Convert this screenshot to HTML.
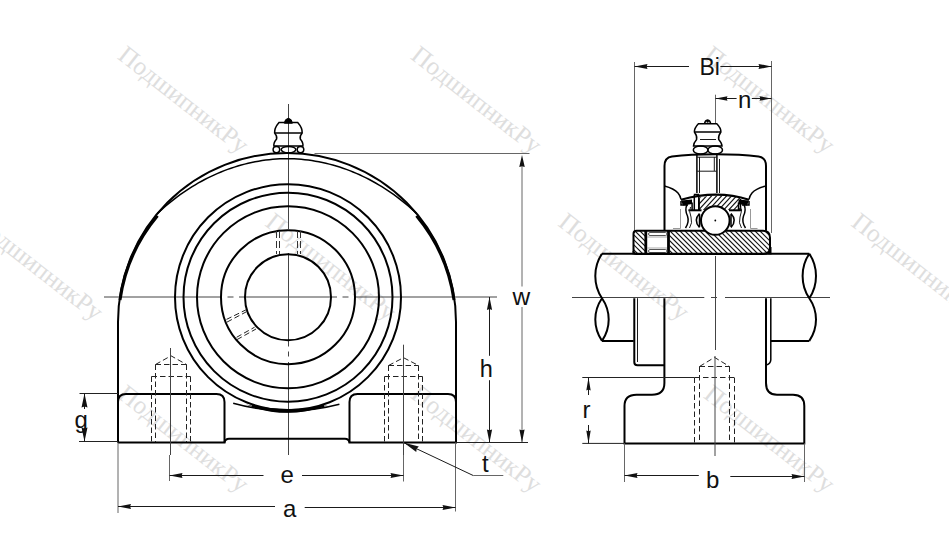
<!DOCTYPE html>
<html><head><meta charset="utf-8"><style>
html,body{margin:0;padding:0;background:#fff;width:949px;height:543px;overflow:hidden}
svg{display:block}
.k{fill:none;stroke:#000;stroke-width:2}
.k3{fill:none;stroke:#000;stroke-width:3}
.m{fill:none;stroke:#000;stroke-width:1.5}
.f{fill:#000;stroke:#000;stroke-width:1}
.t{fill:none;stroke:#1a1a1a;stroke-width:1}
.c{fill:none;stroke:#444;stroke-width:1}
.x{fill:none;stroke:#666;stroke-width:1}
.x2{fill:none;stroke:#222;stroke-width:1}
.dl{fill:none;stroke:#1a1a1a;stroke-width:1}
.d{fill:none;stroke:#222;stroke-width:1;stroke-dasharray:5.5 3}
.ht line{stroke:#111;stroke-width:1.15}
.lbl{font-family:"Liberation Sans",sans-serif;fill:#111}
.wm{font-family:"Liberation Serif",serif;font-size:25.5px;fill:#dedede}
</style></head><body>
<svg width="949" height="543" viewBox="0 0 949 543">
<rect width="949" height="543" fill="#fff"/>
<text x="0" y="0" transform="translate(116.5,58) rotate(38)" class="wm">ПодшипникРу</text>
<text x="0" y="0" transform="translate(409.5,58) rotate(38)" class="wm">ПодшипникРу</text>
<text x="0" y="0" transform="translate(702.5,58) rotate(38)" class="wm">ПодшипникРу</text>
<text x="0" y="0" transform="translate(-29,225) rotate(38)" class="wm">ПодшипникРу</text>
<text x="0" y="0" transform="translate(264,225) rotate(38)" class="wm">ПодшипникРу</text>
<text x="0" y="0" transform="translate(557,225) rotate(38)" class="wm">ПодшипникРу</text>
<text x="0" y="0" transform="translate(850,225) rotate(38)" class="wm">ПодшипникРу</text>
<text x="0" y="0" transform="translate(116.5,397) rotate(38)" class="wm">ПодшипникРу</text>
<text x="0" y="0" transform="translate(409.5,397) rotate(38)" class="wm">ПодшипникРу</text>
<text x="0" y="0" transform="translate(702.5,397) rotate(38)" class="wm">ПодшипникРу</text>
<line x1="288.5" y1="104" x2="288.5" y2="229" class="c"/>
<line x1="288.5" y1="253" x2="288.5" y2="346.5" class="c"/>
<line x1="288.5" y1="351.5" x2="288.5" y2="356.5" class="c"/>
<line x1="288.5" y1="362" x2="288.5" y2="455" class="c"/>
<line x1="104" y1="297" x2="221" y2="297" class="c"/>
<line x1="227.5" y1="297" x2="233.5" y2="297" class="c"/>
<line x1="239" y1="297" x2="245" y2="297" class="c"/>
<line x1="245" y1="297" x2="331" y2="297" class="c"/>
<line x1="331" y1="297" x2="337" y2="297" class="c"/>
<line x1="342.5" y1="297" x2="348.5" y2="297" class="c"/>
<line x1="355" y1="297" x2="497" y2="297" class="c"/>
<path d="M118 442.4 L118 322 A169 169 0 0 1 456 322 L456 442.4" class="k"/>
<path d="M157.50 213.41 L160.21 210.89 L162.96 208.42 L165.74 206.00 L168.55 203.63 L171.40 201.32 L174.27 199.06 L177.18 196.85 L180.12 194.70 L183.09 192.60 L186.09 190.56 L189.12 188.58 L192.18 186.65 L195.27 184.79 L198.39 182.97 L201.53 181.22 L204.70 179.53 L207.90 177.90 L211.13 176.32 L214.38 174.81 L217.66 173.37 L220.96 171.98 L224.28 170.66 L227.63 169.40 L231.00 168.21 L234.39 167.09 L237.80 166.03 L241.23 165.04 L244.68 164.12 L248.14 163.27 L251.62 162.49 L255.12 161.78 L258.62 161.14 L262.14 160.57 L265.67 160.08 L269.21 159.66 L272.76 159.32 L276.32 159.05 L279.87 158.85 L283.44 158.74 L287.00 158.70 L290.56 158.74 L294.13 158.85 L297.68 159.05 L301.24 159.32 L304.79 159.66 L308.33 160.08 L311.86 160.57 L315.38 161.14 L318.88 161.78 L322.38 162.49 L325.86 163.27 L329.32 164.12 L332.77 165.04 L336.20 166.03 L339.61 167.09 L343.00 168.21 L346.37 169.40 L349.72 170.66 L353.04 171.98 L356.34 173.37 L359.62 174.81 L362.87 176.32 L366.10 177.90 L369.30 179.53 L372.47 181.22 L375.61 182.97 L378.73 184.79 L381.82 186.65 L384.88 188.58 L387.91 190.56 L390.91 192.60 L393.88 194.70 L396.82 196.85 L399.73 199.06 L402.60 201.32 L405.45 203.63 L408.26 206.00 L411.04 208.42 L413.79 210.89 L416.50 213.41" class="m"/>
<path d="M120 300 A169 169 0 0 1 157.5 215.8" class="k3"/>
<path d="M416.5 215.8 A169 169 0 0 1 454 300" class="k3"/>
<circle cx="288" cy="297.2" r="43" class="k"/>
<circle cx="288" cy="297.2" r="67" class="k"/>
<circle cx="288" cy="297.2" r="91" class="k"/>
<circle cx="288" cy="297.2" r="104.5" class="k"/>
<circle cx="288" cy="297.2" r="113" class="k"/>
<path d="M233.2 403.3 A204 204 0 0 0 339.4 404.2" class="m"/>
<path d="M246 404.5 A204 204 0 0 0 328 405 A113 113 0 0 1 246 404.5 Z" fill="#000"/>
<path d="M252 405.64 A114.2 114.2 0 0 0 324 405.51" fill="none" stroke="#000" stroke-width="2.6"/>
<path d="M118 442.4 L118 402 Q118 394 126 394 L216.5 394 Q224.5 394 224.5 402 L224.5 442.4 L118 442.4" class="k"/>
<path d="M224.5 442.4 Q225.5 438.8 229 438.8 L345 438.8 Q348.5 438.8 349.5 442.4" class="k"/>
<path d="M349.5 442.4 L349.5 402 Q349.5 394 357.5 394 L448 394 Q456 394 456 402 L456 442.4 Z" class="k"/>
<line x1="151.5" y1="376.5" x2="151.5" y2="442" class="d"/>
<line x1="190.5" y1="376.5" x2="190.5" y2="442" class="d"/>
<line x1="155.5" y1="364.5" x2="155.5" y2="442" class="d"/>
<line x1="186.5" y1="364.5" x2="186.5" y2="442" class="d"/>
<line x1="151.5" y1="376.5" x2="190.5" y2="376.5" class="d"/>
<line x1="155.5" y1="364.5" x2="186.5" y2="364.5" class="d"/>
<path d="M155.5 364.5 L171 355.8 L186.5 364.5" class="d"/>
<line x1="170.5" y1="348" x2="170.5" y2="455" class="c"/>
<line x1="384.5" y1="376.5" x2="384.5" y2="442" class="d"/>
<line x1="422.5" y1="376.5" x2="422.5" y2="442" class="d"/>
<line x1="388.5" y1="365.5" x2="388.5" y2="442" class="d"/>
<line x1="418.5" y1="365.5" x2="418.5" y2="442" class="d"/>
<line x1="384.5" y1="376.5" x2="422.5" y2="376.5" class="d"/>
<line x1="388.5" y1="365.5" x2="418.5" y2="365.5" class="d"/>
<path d="M388.5 365.5 L403.5 357.7 L418.5 365.5" class="d"/>
<line x1="403.5" y1="344.7" x2="403.5" y2="455" class="c"/>
<line x1="276.5" y1="231" x2="276.5" y2="254" stroke="#333" stroke-width="1" stroke-dasharray="7 3"/>
<line x1="279.5" y1="231" x2="279.5" y2="254" stroke="#333" stroke-width="1" stroke-dasharray="7 3"/>
<line x1="297.5" y1="231" x2="297.5" y2="254" stroke="#333" stroke-width="1" stroke-dasharray="7 3"/>
<line x1="300.5" y1="231" x2="300.5" y2="254" stroke="#333" stroke-width="1" stroke-dasharray="7 3"/>
<line x1="226.5" y1="319.4" x2="246.3" y2="309.7" class="d"/>
<line x1="227" y1="322.1" x2="246.7" y2="311.6" class="d"/>
<line x1="236.6" y1="337.3" x2="254.6" y2="327.2" class="d"/>
<line x1="237" y1="339.6" x2="256" y2="329" class="d"/>
<path d="M284.3 123.2 Q284.8 118.8 288.4 118.3 Q292 118.8 292.4 123.2 Z" class="f"/>
<path d="M279 122.6 L297.7 122.6 Q302.5 128 302.2 133 Q299.5 136 300.3 139 Q303.5 143 302.9 146 L273.9 146 Q273.3 143 276.6 139 Q277.3 136 274.6 133 Q274.3 128 279 122.6 Z" class="m"/>
<line x1="275" y1="133" x2="302" y2="133" class="m"/>
<ellipse cx="276.4" cy="149.6" rx="3.3" ry="3.2" class="m"/>
<ellipse cx="288.5" cy="149.6" rx="7.3" ry="3.2" class="m"/>
<ellipse cx="300.5" cy="149.6" rx="3.3" ry="3.2" class="m"/>
<line x1="314.5" y1="153.5" x2="529.5" y2="153.5" class="x"/>
<line x1="522" y1="160" x2="522" y2="286.5" class="x"/>
<line x1="522" y1="307" x2="522" y2="442.4" class="x"/>
<polygon points="522.00,155.00 524.75,167.00 522.00,166.16 519.25,167.00" fill="#111"/>
<polygon points="522.00,442.40 519.40,429.40 522.00,430.31 524.60,429.40" fill="#111"/>
<line x1="456" y1="442.5" x2="528" y2="442.5" class="x2"/>
<line x1="489.5" y1="297" x2="489.5" y2="355.8" class="dl"/>
<line x1="489.5" y1="380.2" x2="489.5" y2="442.4" class="dl"/>
<polygon points="489.50,297.00 492.10,310.00 489.50,309.09 486.90,310.00" fill="#111"/>
<polygon points="489.50,442.40 486.90,429.40 489.50,430.31 492.10,429.40" fill="#111"/>
<line x1="79.5" y1="393.5" x2="118" y2="393.5" class="x2"/>
<line x1="79" y1="441.5" x2="118" y2="441.5" class="x2"/>
<line x1="84.5" y1="393.5" x2="84.5" y2="409" class="dl"/>
<line x1="84.5" y1="428" x2="84.5" y2="441.5" class="dl"/>
<polygon points="84.50,393.50 87.50,407.50 84.50,406.52 81.50,407.50" fill="#111"/>
<polygon points="84.50,441.50 81.50,427.50 84.50,428.48 87.50,427.50" fill="#111"/>
<line x1="169.5" y1="455" x2="169.5" y2="481" class="x"/>
<line x1="403.5" y1="455" x2="403.5" y2="481.5" class="x"/>
<line x1="169.5" y1="475.5" x2="263.5" y2="475.5" class="dl"/>
<line x1="302" y1="475.5" x2="403.5" y2="475.5" class="dl"/>
<polygon points="169.50,475.50 182.50,472.90 181.59,475.50 182.50,478.10" fill="#111"/>
<polygon points="403.50,475.50 390.50,478.10 391.41,475.50 390.50,472.90" fill="#111"/>
<line x1="118" y1="442.5" x2="118" y2="513" class="x"/>
<line x1="455.5" y1="442.5" x2="455.5" y2="511.5" class="x"/>
<line x1="118" y1="506.5" x2="275" y2="506.5" class="dl"/>
<line x1="304.7" y1="507.5" x2="455.5" y2="507.5" class="dl"/>
<polygon points="118.00,506.50 131.00,503.90 130.09,506.50 131.00,509.10" fill="#111"/>
<polygon points="455.50,507.50 442.50,510.10 443.41,507.50 442.50,504.90" fill="#111"/>
<line x1="404" y1="442.8" x2="473.2" y2="475.5" class="dl"/>
<line x1="473.2" y1="475.5" x2="503.3" y2="475.5" class="x"/>
<polygon points="404.00,442.80 418.84,446.50 416.61,448.76 416.28,451.92" fill="#111"/>
<text x="512.5" y="305" font-size="24.5" text-anchor="start" class="lbl">w</text>
<text x="479.8" y="377" font-size="23.5" text-anchor="start" class="lbl">h</text>
<text x="74.5" y="427.5" font-size="24" text-anchor="start" class="lbl">g</text>
<text x="280.5" y="483.3" font-size="24" text-anchor="start" class="lbl">e</text>
<text x="283" y="517" font-size="24" text-anchor="start" class="lbl">a</text>
<text x="482" y="471.5" font-size="24" text-anchor="start" class="lbl">t</text>
<line x1="715.5" y1="256" x2="715.5" y2="350" class="c"/>
<line x1="572" y1="297.5" x2="704.3" y2="297.5" class="c"/>
<line x1="711" y1="297.5" x2="717" y2="297.5" class="c"/>
<line x1="725" y1="297.5" x2="830" y2="297.5" class="c"/>
<line x1="634.5" y1="62" x2="634.5" y2="233" class="x"/>
<line x1="771.5" y1="61" x2="771.5" y2="233" class="x"/>
<line x1="634.5" y1="66.5" x2="689" y2="66.5" class="dl"/>
<line x1="720.4" y1="66.5" x2="771.5" y2="66.5" class="dl"/>
<polygon points="634.50,66.50 647.50,63.90 646.59,66.50 647.50,69.10" fill="#111"/>
<polygon points="771.50,66.50 758.50,69.10 759.41,66.50 758.50,63.90" fill="#111"/>
<text x="699.5" y="75" font-size="23" text-anchor="start" class="lbl">Bi</text>
<line x1="715.5" y1="94.7" x2="715.5" y2="123" class="x"/>
<line x1="715.5" y1="98.5" x2="736.6" y2="98.5" class="dl"/>
<line x1="751.8" y1="98.5" x2="771.5" y2="98.5" class="dl"/>
<polygon points="715.50,98.50 727.50,96.20 726.66,98.50 727.50,100.80" fill="#111"/>
<polygon points="771.50,98.50 759.50,100.80 760.34,98.50 759.50,96.20" fill="#111"/>
<text x="738" y="107.5" font-size="24" text-anchor="start" class="lbl">n</text>
<path d="M704.5 123.8 Q705 120.3 707.6 120 Q710.2 120.3 710.7 123.8" class="m"/>
<circle cx="707.6" cy="121.6" r="1.2" fill="#000"/>
<path d="M698.4 123.8 L716.8 123.8 Q721 128 720.9 132 Q718 136 718.7 139.4 Q722 143 722 146 L693.5 146 Q693.5 143 696.6 139.4 Q697.3 136 694.4 132 Q694.3 128 698.4 123.8 Z" class="m"/>
<line x1="694.5" y1="132" x2="721" y2="132" class="m"/>
<line x1="700" y1="139.5" x2="716" y2="139.5" class="t"/>
<ellipse cx="700.6" cy="150" rx="7.3" ry="4.1" class="m"/>
<ellipse cx="715.2" cy="150" rx="7.3" ry="4.1" class="m"/>
<path d="M664.5 230.7 L664.5 166 Q664.5 157.5 672 156.5 Q690 154.3 715.5 154.3 Q741 154.3 758.5 156.5 Q766 157.5 766 166 L766 230.7" class="k"/>
<path d="M664.5 186 Q674 188.5 678 193 Q680.5 196 681 199.5" class="m"/>
<path d="M766 186 Q756 188.5 752 193 Q749.5 196 749 199.5" class="m"/>
<line x1="696.9" y1="155" x2="696.9" y2="193" class="m"/>
<line x1="716.9" y1="155" x2="716.9" y2="193" class="m"/>
<line x1="699.5" y1="157" x2="699.5" y2="193" class="t"/>
<line x1="714.3" y1="157" x2="714.3" y2="171" class="t"/>
<line x1="696.9" y1="157.2" x2="716.9" y2="157.2" class="t"/>
<line x1="696.9" y1="171.2" x2="716.9" y2="171.2" class="t"/>
<line x1="719.5" y1="159" x2="719.5" y2="193" class="t"/>
<clipPath id="orc"><path d="M699 197.5 Q716.9 193.5 740.5 197.5 L740.5 210 L699 210 Z"/></clipPath>
<g clip-path="url(#orc)" class="ht"><line x1="670" y1="214" x2="692" y2="190"/><line x1="675" y1="214" x2="697" y2="190"/><line x1="680" y1="214" x2="702" y2="190"/><line x1="685" y1="214" x2="707" y2="190"/><line x1="690" y1="214" x2="712" y2="190"/><line x1="695" y1="214" x2="717" y2="190"/><line x1="700" y1="214" x2="722" y2="190"/><line x1="705" y1="214" x2="727" y2="190"/><line x1="710" y1="214" x2="732" y2="190"/><line x1="715" y1="214" x2="737" y2="190"/><line x1="720" y1="214" x2="742" y2="190"/><line x1="725" y1="214" x2="747" y2="190"/><line x1="730" y1="214" x2="752" y2="190"/><line x1="735" y1="214" x2="757" y2="190"/><line x1="740" y1="214" x2="762" y2="190"/><line x1="745" y1="214" x2="767" y2="190"/><line x1="750" y1="214" x2="772" y2="190"/><line x1="755" y1="214" x2="777" y2="190"/></g>
<path d="M681 199.8 Q716.9 189.5 749 199.8" fill="none" stroke="#000" stroke-width="2.2"/>
<path d="M681 201 L681 205 L688 205" class="m"/>
<path d="M749 201 L749 205 L742 205" class="m"/>
<line x1="688.4" y1="210.3" x2="701.5" y2="210.3" class="k"/>
<line x1="729" y1="210.3" x2="742" y2="210.3" class="k"/>
<line x1="699" y1="199" x2="699" y2="210" class="m"/>
<line x1="740.5" y1="199" x2="740.5" y2="210" class="m"/>
<path d="M694.3 195 L694.3 210 M698.8 195 L698.8 210 M693.8 194.5 L699.3 194.5" class="m"/>
<path d="M699.5 213.5 Q693 220.5 699.5 227.4 M699.5 214 L699.5 227" class="m"/>
<path d="M731 213.5 Q737.5 220.5 731 227.4 M731 214 L731 227" class="m"/>
<path d="M673 228.5 L680.5 228.5 L680.5 209 M757.5 228.5 L750.5 228.5 L750.5 209" stroke="#999" stroke-width="1" fill="none"/>
<path d="M687 204.6 Q684.5 210 687.5 216 Q689.5 222 685.5 228" class="m"/>
<path d="M690.5 207 Q688.5 211 691 217 Q692.8 223 689.5 228" class="t"/>
<path d="M692.1 202.4 L692.1 210" class="m"/>
<path d="M744 204.6 Q746.5 210 743.5 216 Q741.5 222 745.5 228" class="m"/>
<path d="M740.5 207 Q742.5 211 740 217 Q738.2 223 741.5 228" class="t"/>
<path d="M738.5 202.4 L738.5 210" class="m"/>
<path d="M681 200.5 L692 199.5 L692 204 L683 205.5 Z M749 200.5 L738.5 199.5 L738.5 204 L747 205.5 Z" fill="#000"/>
<clipPath id="irc"><path d="M636.5 230.7 L763 230.7 Q770 230.7 770 237.7 L770 247 Q770 253.9 763 253.9 L636.5 253.9 Q633.5 253.9 633.5 250.9 L633.5 233.7 Q633.5 230.7 636.5 230.7 Z"/></clipPath>
<g clip-path="url(#irc)" class="ht"><line x1="590" y1="226" x2="622" y2="258"/><line x1="595" y1="226" x2="627" y2="258"/><line x1="600" y1="226" x2="632" y2="258"/><line x1="605" y1="226" x2="637" y2="258"/><line x1="610" y1="226" x2="642" y2="258"/><line x1="615" y1="226" x2="647" y2="258"/><line x1="620" y1="226" x2="652" y2="258"/><line x1="625" y1="226" x2="657" y2="258"/><line x1="630" y1="226" x2="662" y2="258"/><line x1="635" y1="226" x2="667" y2="258"/><line x1="640" y1="226" x2="672" y2="258"/><line x1="645" y1="226" x2="677" y2="258"/><line x1="650" y1="226" x2="682" y2="258"/><line x1="655" y1="226" x2="687" y2="258"/><line x1="660" y1="226" x2="692" y2="258"/><line x1="665" y1="226" x2="697" y2="258"/><line x1="670" y1="226" x2="702" y2="258"/><line x1="675" y1="226" x2="707" y2="258"/><line x1="680" y1="226" x2="712" y2="258"/><line x1="685" y1="226" x2="717" y2="258"/><line x1="690" y1="226" x2="722" y2="258"/><line x1="695" y1="226" x2="727" y2="258"/><line x1="700" y1="226" x2="732" y2="258"/><line x1="705" y1="226" x2="737" y2="258"/><line x1="710" y1="226" x2="742" y2="258"/><line x1="715" y1="226" x2="747" y2="258"/><line x1="720" y1="226" x2="752" y2="258"/><line x1="725" y1="226" x2="757" y2="258"/><line x1="730" y1="226" x2="762" y2="258"/><line x1="735" y1="226" x2="767" y2="258"/><line x1="740" y1="226" x2="772" y2="258"/><line x1="745" y1="226" x2="777" y2="258"/><line x1="750" y1="226" x2="782" y2="258"/><line x1="755" y1="226" x2="787" y2="258"/><line x1="760" y1="226" x2="792" y2="258"/><line x1="765" y1="226" x2="797" y2="258"/><line x1="770" y1="226" x2="802" y2="258"/><line x1="775" y1="226" x2="807" y2="258"/><line x1="780" y1="226" x2="812" y2="258"/><line x1="785" y1="226" x2="817" y2="258"/></g>
<rect x="645.5" y="231" width="24" height="22.5" fill="#fff"/>
<path d="M645.8 231 L645.8 253.5 M668.5 231 L668.5 253.5" stroke="#000" stroke-width="2.8" fill="none"/>
<rect x="648.5" y="232.5" width="18.5" height="3" rx="1.5" fill="none" stroke="#555" stroke-width="1"/>
<rect x="648.5" y="249.5" width="18.5" height="3" rx="1.5" fill="none" stroke="#555" stroke-width="1"/>
<path d="M647 237 L667 237 M647 248 L667 248" stroke="#aaa" stroke-width="1" fill="none"/>
<path d="M636.5 230.7 L763 230.7 Q770 230.7 770 237.7 L770 247 Q770 253.9 763 253.9 L636.5 253.9 Q633.5 253.9 633.5 250.9 L633.5 233.7 Q633.5 230.7 636.5 230.7 Z" class="k"/>
<path d="M701 220.5 A14.3 14.3 0 1 1 729.6 220.5 A14.3 14.3 0 1 1 701 220.5 Z" fill="#fff" stroke="#000" stroke-width="2"/>
<circle cx="715.3" cy="220.5" r="0.9" fill="#000"/>
<path d="M763 253.9 Q770 253.9 770 247 L771.5 247 L771.5 254.5 Z" fill="#000"/>
<path d="M636.5 253.9 Q633.5 253.9 633.5 250.9 L632.5 250.9 L632.5 254.5 Z" fill="#000"/>
<path d="M602 253.8 L809.3 253.8" class="k"/>
<path d="M602 253.8 C593.07 266.8 593.07 285.2 602 298.2 M602 298.2 C593.07 311.2 593.07 327.9 602 340.9 M602 298.2 C610.93 311.2 610.93 327.9 602 340.9" class="k"/>
<path d="M809.3 253.8 C818.23 266.8 818.23 285.2 809.3 298.2 M809.3 298.2 C818.23 311.2 818.23 327.9 809.3 340.9 M809.3 253.8 C800.37 266.8 800.37 285.2 809.3 298.2" class="k"/>
<path d="M602 340.9 L633.7 340.9 M771 341 L809.3 341" class="k"/>
<path d="M634.3 298.2 L634.3 362.3 Q634.3 365.2 637.5 365.2 L664.4 365.2" class="k"/>
<line x1="637.5" y1="298.2" x2="637.5" y2="362" class="t"/>
<path d="M664.4 298.2 L664.4 383 Q664.4 394.7 652 394.7 L636.5 394.7 Q624.5 394.7 624.5 406 L624.5 443.4 L804.3 443.4 L804.3 406 Q804.3 394.7 793 394.7 L777 394.7 Q766 394.7 766 383 L766 298.2" class="k"/>
<path d="M770.8 298.2 L770.8 360 Q770.5 364 766 365" class="m"/>
<line x1="694.5" y1="377.5" x2="694.5" y2="443" class="d"/>
<line x1="734.5" y1="377.5" x2="734.5" y2="443" class="d"/>
<line x1="699.5" y1="366.5" x2="699.5" y2="443" class="d"/>
<line x1="729.5" y1="366.5" x2="729.5" y2="443" class="d"/>
<line x1="694.5" y1="377.5" x2="734.5" y2="377.5" class="d"/>
<line x1="699.5" y1="366.5" x2="729.5" y2="366.5" class="d"/>
<path d="M699.5 366.5 L714.5 357.4 L729.5 366.5" class="d"/>
<line x1="715" y1="356" x2="715" y2="456" class="c"/>
<line x1="582.3" y1="377.5" x2="694.5" y2="377.5" class="x2"/>
<line x1="582.3" y1="443.4" x2="624.5" y2="443.4" class="x2"/>
<line x1="588.5" y1="377.5" x2="588.5" y2="395" class="dl"/>
<line x1="588.5" y1="425" x2="588.5" y2="443.4" class="dl"/>
<polygon points="588.50,377.50 590.70,390.50 588.50,389.59 586.30,390.50" fill="#111"/>
<polygon points="588.50,443.40 586.30,430.40 588.50,431.31 590.70,430.40" fill="#111"/>
<text x="582.5" y="418" font-size="24" text-anchor="start" class="lbl">r</text>
<line x1="624.5" y1="443.4" x2="624.5" y2="482" class="x"/>
<line x1="804.5" y1="443.4" x2="804.5" y2="482" class="x"/>
<line x1="624.5" y1="475.5" x2="698.8" y2="475.5" class="dl"/>
<line x1="730.3" y1="476.5" x2="804.5" y2="476.5" class="dl"/>
<polygon points="624.50,475.50 637.50,472.90 636.59,475.50 637.50,478.10" fill="#111"/>
<polygon points="804.50,476.50 791.50,479.10 792.41,476.50 791.50,473.90" fill="#111"/>
<text x="706" y="487.5" font-size="24" text-anchor="start" class="lbl">b</text>
</svg>
</body></html>
